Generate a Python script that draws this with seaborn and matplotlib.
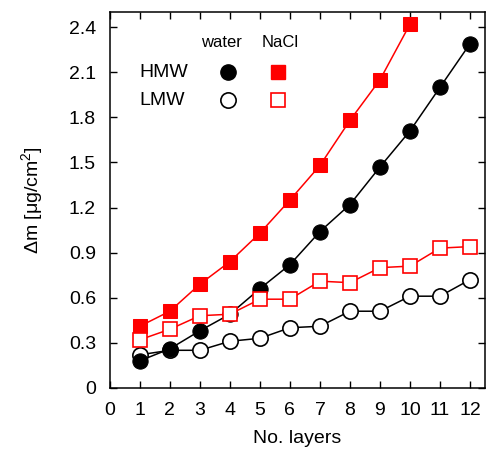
import numpy as np
import pandas as pd
import matplotlib
matplotlib.use("Agg")
import matplotlib.pyplot as plt
import seaborn as sns

# values
layers = list(range(1, 13))
hmw_water = [0.18, 0.26, 0.38, 0.49, 0.66, 0.82, 1.04, 1.22, 1.47, 1.71, 2.00, 2.29]
lmw_water = [0.22, 0.25, 0.25, 0.31, 0.33, 0.40, 0.41, 0.51, 0.51, 0.61, 0.61, 0.72]
hmw_nacl = [0.41, 0.51, 0.69, 0.84, 1.03, 1.25, 1.48, 1.78, 2.05, 2.42]
lmw_nacl = [0.32, 0.39, 0.48, 0.49, 0.59, 0.59, 0.71, 0.70, 0.80, 0.81, 0.93, 0.94]

sns.set_style("ticks")
plt.rcParams['font.family'] = ['Liberation Sans', 'DejaVu Sans']
plt.rcParams['mathtext.fontset'] = 'custom'
plt.rcParams['mathtext.rm'] = 'Liberation Sans'
for key in ['text.color', 'axes.labelcolor', 'xtick.color', 'ytick.color',
            'axes.edgecolor']:
    plt.rcParams[key] = 'black'

fig = plt.figure(figsize=(4.86, 4.51), dpi=100)
ax = fig.add_axes([0.226, 0.140, 0.772, 0.833])

red = '#ff0000'
lw = 1.1
circ = 11
sq = 10
sns.lineplot(x=layers, y=lmw_water, ax=ax, color='black', lw=lw, marker='o',
             markersize=circ, mfc='white', mec='black', mew=1.2, zorder=3)
sns.lineplot(x=layers, y=hmw_water, ax=ax, color='black', lw=lw, marker='o',
             markersize=circ, mfc='black', mec='black', zorder=4)
sns.lineplot(x=layers[:len(hmw_nacl)], y=hmw_nacl, ax=ax, color=red, lw=lw,
             marker='s', markersize=sq, mfc=red, mec=red, zorder=5)
sns.lineplot(x=layers, y=lmw_nacl, ax=ax, color=red, lw=lw, marker='s',
             markersize=sq, mfc='white', mec=red, mew=1.2, zorder=6)

# legend block drawn as a small table
tr = ax.transAxes
ax.text(0.298, 0.918, 'water', transform=tr, ha='center', va='center', fontsize=12)
ax.text(0.455, 0.918, 'NaCl', transform=tr, ha='center', va='center', fontsize=12)
ax.text(0.08, 0.84, 'HMW', transform=tr, ha='left', va='center', fontsize=14)
ax.text(0.08, 0.765, 'LMW', transform=tr, ha='left', va='center', fontsize=14)
ax.plot([0.314], [0.84], 'o', transform=tr, ms=circ, mfc='black', mec='black')
ax.plot([0.314], [0.765], 'o', transform=tr, ms=circ, mfc='white', mec='black', mew=1.2)
ax.plot([0.447], [0.84], 's', transform=tr, ms=sq, mfc=red, mec=red)
ax.plot([0.447], [0.765], 's', transform=tr, ms=sq, mfc='white', mec=red, mew=1.2)

ax.set_xlim(0, 12.5)
ax.set_ylim(0, 2.5)
ax.set_xticks(range(0, 13))
ax.set_yticks(np.arange(0, 2.41, 0.3))
ax.set_yticklabels(['0'] + ['%.1f' % v for v in np.arange(0.3, 2.41, 0.3)])
ax.tick_params(direction='in', top=True, right=True, length=5, width=1,
               labelsize=14)
ax.tick_params(axis='y', pad=10)
ax.tick_params(axis='x', pad=10)
for s in ax.spines.values():
    s.set_linewidth(1.1)
    s.set_visible(True)

ax.set_xlabel('No. layers', fontsize=14, labelpad=8)
ax.set_ylabel('Δm [μg/cm$^2$]', fontsize=14, labelpad=16)

fig.savefig('out.png', dpi=100)
